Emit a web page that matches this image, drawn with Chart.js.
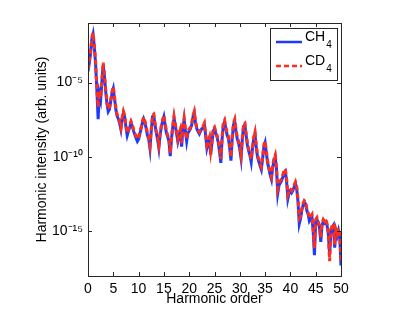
<!DOCTYPE html>
<html>
<head>
<meta charset="utf-8">
<script src="https://cdn.jsdelivr.net/npm/chart.js@4.4.1/dist/chart.umd.min.js"></script>
<style>
  html, body { margin: 0; padding: 0; background: #fff; }
</style>
</head>
<body>
<canvas id="hhg" width="415" height="313"></canvas>
<script>
// Harmonic orders are sampled every quarter order from 0 to 50
const HARMONIC_STEP = 0.25;

// log10 of the harmonic intensity (CD4, red dashed)
const cd4Log = [
    -4.13, -3.6, -2.93, -2.0, -1.67, -2.47, -3.6, -5.33, -6.67,
    -5.6, -6.0, -4.8, -3.67, -4.47, -5.47, -6.33, -6.8,
    -6.67, -6.13, -5.6, -5.27, -6.0, -6.67, -7.13, -7.33,
    -7.6, -8.0, -7.33, -6.93, -7.2, -7.87, -8.4, -8.13,
    -7.87, -7.6, -7.8, -8.13, -8.4, -8.6, -8.8, -8.67,
    -8.33, -8.0, -7.6, -7.33, -7.6, -8.0, -8.4, -8.67,
    -9.2, -8.13, -7.2, -7.13, -7.73, -8.27, -8.67, -9.2,
    -8.4, -7.87, -7.47, -7.2, -7.73, -8.27, -8.53, -8.8,
    -9.73, -8.67, -7.87, -7.27, -7.8, -8.27, -8.8, -8.4,
    -8.13, -9.07, -8.0, -7.4, -8.13, -8.8, -8.27, -8.13,
    -8.0, -7.73, -7.2, -6.93, -7.6, -8.0, -8.2, -8.33,
    -8.13, -8.0, -7.93, -7.73, -8.4, -9.2, -8.93, -8.67,
    -9.6, -8.93, -8.13, -8.0, -8.27, -8.53, -8.93, -9.47,
    -10.13, -8.67, -7.73, -7.53, -8.0, -8.4, -8.6, -9.2,
    -10.0, -8.67, -7.73, -7.47, -8.13, -8.67, -8.93, -9.33,
    -9.87, -8.67, -7.8, -7.73, -8.4, -9.07, -9.47, -9.73,
    -10.13, -9.33, -8.67, -8.33, -9.2, -9.87, -10.13, -10.47,
    -10.67, -10.0, -9.2, -8.93, -9.6, -10.27, -10.67, -11.07,
    -11.33, -10.53, -10.13, -9.87, -10.67, -12.13, -11.73, -11.6,
    -11.47, -11.2, -10.93, -10.8, -11.47, -12.53, -12.27, -12.13,
    -12.27, -12.13, -11.87, -11.67, -12.0, -12.8, -14.13, -14.0,
    -13.47, -13.13, -12.93, -13.0, -13.47, -13.73, -14.13, -14.0,
    -13.87, -14.8, -16.13, -14.2, -14.07, -14.33, -14.6, -15.4,
    -14.47, -14.2, -14.33, -14.2, -14.47, -15.07, -17.0, -14.87,
    -14.6, -14.47, -15.9, -14.87, -15.13, -14.8, -15.2, -16.93
];

// log10 of the harmonic intensity for CH4 (blue solid)
const ch4Log = [
    -4.25, -3.7, -3.05, -2.1, -1.75, -2.6, -3.75, -5.5, -7.47,
    -5.75, -6.15, -4.95, -3.8, -4.6, -5.6, -6.45, -6.95,
    -6.8, -6.25, -5.7, -5.4, -6.1, -6.8, -7.25, -7.45,
    -7.75, -8.15, -7.45, -7.05, -7.3, -8.0, -8.55, -8.25,
    -8.0, -7.7, -7.95, -8.25, -8.5, -8.75, -8.95, -8.8,
    -8.45, -8.1, -7.7, -7.45, -7.7, -8.1, -8.55, -8.8,
    -9.45, -8.25, -7.3, -7.25, -7.85, -8.4, -8.8, -9.4,
    -8.55, -7.95, -7.6, -7.3, -7.85, -8.4, -8.65, -8.95,
    -9.95, -8.8, -8.0, -7.4, -7.9, -8.4, -8.95, -8.55,
    -8.25, -9.3, -8.1, -7.5, -8.25, -8.95, -8.4, -8.25,
    -8.1, -7.85, -7.3, -7.05, -7.7, -8.1, -8.3, -8.45,
    -8.25, -8.1, -8.05, -7.85, -8.55, -9.4, -9.05, -8.8,
    -9.85, -9.05, -8.25, -8.1, -8.4, -8.65, -9.05, -9.65,
    -10.4, -8.8, -7.85, -7.65, -8.1, -8.55, -8.75, -9.4,
    -10.25, -8.8, -7.85, -7.6, -8.25, -8.8, -9.05, -9.5,
    -10.1, -8.8, -7.95, -7.85, -8.55, -9.2, -9.6, -9.9,
    -10.35, -9.45, -8.8, -8.45, -9.35, -10.0, -10.3, -10.6,
    -10.85, -10.15, -9.35, -9.05, -9.75, -10.4, -10.8, -11.2,
    -11.5, -10.7, -10.25, -10.0, -10.8, -12.45, -11.9, -11.75,
    -11.6, -11.35, -11.05, -10.95, -11.65, -12.8, -12.4, -12.25,
    -12.4, -12.25, -12.0, -11.8, -12.15, -13.0, -14.5, -14.15,
    -13.6, -13.25, -13.05, -13.15, -13.6, -13.85, -14.3, -14.15,
    -14.0, -15.0, -16.6, -14.35, -14.2, -14.45, -14.75, -15.7,
    -14.6, -14.35, -14.45, -14.35, -14.6, -15.2, -16.6, -15.0,
    -14.75, -14.6, -16.1, -15.0, -15.3, -14.95, -15.35, -17.3
];

const seriesNames = ['CH', 'CD'];
const yTickValues = [1e-15, 1e-10, 1e-5];
const yTickLabels = ['10\u207B\u00B9\u2075', '10\u207B\u00B9\u2070', '10\u207B\u2075'];

const FONT = "'Liberation Sans', Arial, Helvetica, sans-serif";
const INK = '#262626';

const toPoints = logs => logs.map((v, i) => ({ x: i * HARMONIC_STEP, y: Math.pow(10, v) }));

// Box round the plot, inward ticks on all four sides and the legend
const matlabFrame = {
    id: 'matlabFrame',
    afterDraw(chart) {
        const { ctx, chartArea: a, scales: { x, y } } = chart;
        ctx.save();
        ctx.strokeStyle = INK;
        ctx.lineWidth = 1;
        ctx.strokeRect(a.left + 0.5, a.top + 0.5, a.right - a.left, a.bottom - a.top);

        const tl = 4;
        ctx.beginPath();
        x.ticks.forEach(t => {
            const px = Math.round(x.getPixelForValue(t.value)) + 0.5;
            ctx.moveTo(px, a.bottom); ctx.lineTo(px, a.bottom - tl);
            ctx.moveTo(px, a.top); ctx.lineTo(px, a.top + tl);
        });
        y.ticks.forEach(t => {
            const py = Math.round(y.getPixelForValue(t.value)) + 0.5;
            ctx.moveTo(a.left, py); ctx.lineTo(a.left + tl, py);
            ctx.moveTo(a.right, py); ctx.lineTo(a.right - tl, py);
        });
        ctx.stroke();

        // legend
        const bw = 67, bh = 52;
        const bx = a.right - 4 - bw, by = a.top + 5;
        ctx.fillStyle = '#fff';
        ctx.fillRect(bx, by, bw, bh);
        ctx.strokeRect(bx + 0.5, by + 0.5, bw, bh);

        const sets = [chart.data.datasets[1], chart.data.datasets[0]];
        const rows = [14, 38];
        sets.forEach((ds, i) => {
            const ly = by + rows[i];
            ctx.strokeStyle = ds.borderColor;
            ctx.lineWidth = 2.5;
            ctx.setLineDash(ds.borderDash || []);
            ctx.beginPath();
            ctx.moveTo(bx + 6, ly);
            ctx.lineTo(bx + 32, ly);
            ctx.stroke();
            ctx.setLineDash([]);

            ctx.fillStyle = '#000';
            ctx.textBaseline = 'alphabetic';
            ctx.font = '14px ' + FONT;
            ctx.fillText(seriesNames[i], bx + 35, ly - 1);
            const w = ctx.measureText(seriesNames[i]).width;
            ctx.font = '10px ' + FONT;
            ctx.fillText('4', bx + 35 + w + 1, ly + 6);
        });
        ctx.restore();
    }
};

new Chart(document.getElementById('hhg').getContext('2d'), {
    type: 'line',
    data: {
        datasets: [
            {
                label: 'CD4',
                data: toPoints(cd4Log),
                borderColor: '#ff2d1a',
                borderWidth: 3,
                borderDash: [5, 3],
                pointRadius: 0,
                tension: 0
            },
            {
                label: 'CH4',
                data: toPoints(ch4Log),
                borderColor: '#1d3bff',
                borderWidth: 3,
                pointRadius: 0,
                tension: 0
            }
        ]
    },
    options: {
        responsive: false,
        animation: false,
        devicePixelRatio: 1,
        layout: { padding: { top: 23, right: 74, left: 0, bottom: 0 } },
        plugins: {
            legend: { display: false },
            tooltip: { enabled: false }
        },
        scales: {
            x: {
                type: 'linear',
                min: 0,
                max: 50,
                grid: { display: false, drawTicks: false },
                border: { display: false },
                ticks: {
                    stepSize: 5,
                    padding: 5,
                    color: '#000',
                    font: { family: FONT, size: 14 }
                },
                title: {
                    display: true,
                    text: 'Harmonic order',
                    color: '#000',
                    font: { family: FONT, size: 14 },
                    padding: { top: 0, bottom: 5 }
                },
                afterFit(scale) { scale.height = 37; }
            },
            y: {
                type: 'logarithmic',
                min: 1e-18,
                max: 1e-1,
                grid: { display: false, drawTicks: false },
                border: { display: false },
                afterBuildTicks(scale) {
                    scale.ticks = yTickValues.map(v => ({ value: v }));
                },
                ticks: {
                    padding: 5,
                    color: '#000',
                    font: { family: FONT, size: 14 },
                    callback: (value) => yTickLabels[yTickValues.indexOf(value)] ?? ''
                },
                title: {
                    display: true,
                    text: 'Harmonic intensity (arb. units)',
                    color: '#000',
                    font: { family: FONT, size: 14 },
                    padding: { top: 34, bottom: 0 }
                },
                afterFit(scale) { scale.width = 88; }
            }
        }
    },
    plugins: [matlabFrame]
});
</script>
</body>
</html>
